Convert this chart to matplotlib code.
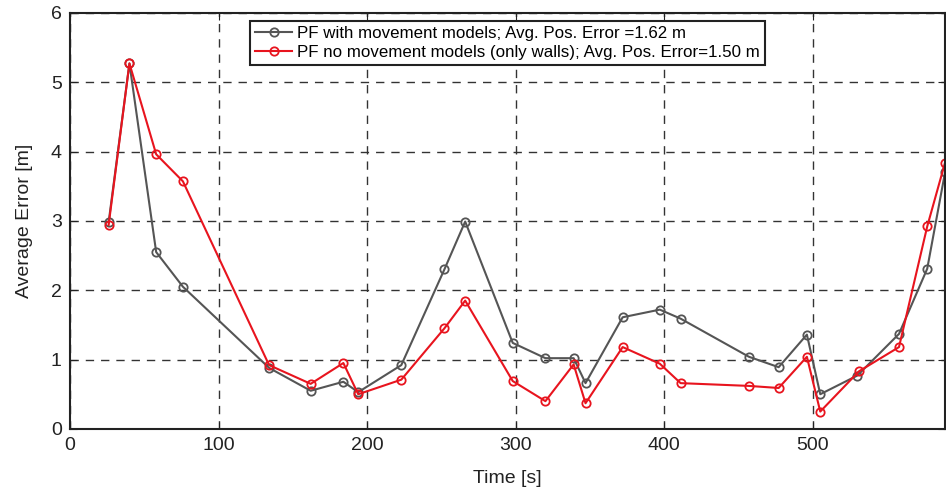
import numpy as np
import matplotlib.pyplot as plt

plt.rcParams['font.family'] = ['Liberation Sans', 'DejaVu Sans']

# PF with movement models
t_mov = [26, 40, 58, 76, 134, 162, 184, 194, 223, 252, 266, 298, 320, 339, 347,
         372, 397, 411, 457, 477, 496, 505, 530, 558, 577, 589]
e_mov = [2.98, 5.27, 2.55, 2.05, 0.88, 0.55, 0.68, 0.53, 0.92, 2.30, 2.99, 1.24,
         1.02, 1.02, 0.66, 1.61, 1.72, 1.59, 1.04, 0.89, 1.36, 0.50, 0.77, 1.37,
         2.31, 3.70]

# PF without movement models (only walls)
t_walls = [26, 40, 58, 76, 134, 162, 184, 194, 223, 252, 266, 298, 320, 339, 347,
           372, 397, 411, 457, 477, 496, 505, 531, 558, 577, 589]
e_walls = [2.94, 5.27, 3.96, 3.57, 0.92, 0.65, 0.95, 0.50, 0.71, 1.45, 1.85, 0.69,
           0.40, 0.93, 0.37, 1.18, 0.94, 0.66, 0.62, 0.59, 1.04, 0.25, 0.83, 1.18,
           2.92, 3.84]

fig = plt.figure(figsize=(9.46, 4.93), dpi=100)
ax = fig.add_axes([0.074, 0.130, 0.925, 0.844])

ax.plot(t_mov, e_mov, '-o', color='#555555', lw=1.5, ms=6, mfc='none', mew=1.3,
        label='PF with movement models; Avg. Pos. Error =1.62 m')
ax.plot(t_walls, e_walls, '-o', color='#e8141e', lw=1.5, ms=6, mfc='none', mew=1.3,
        label='PF no movement models (only walls); Avg. Pos. Error=1.50 m')

ax.set_xlim(0, 589)
ax.set_ylim(0, 6)
ax.set_xticks([0, 100, 200, 300, 400, 500])
ax.set_yticks(range(7))
ax.grid(True, ls=(0, (6, 5)), color='#333333', lw=1.0)
ax.tick_params(direction='in', length=5, labelsize=14, top=True, right=True,
               colors='#222222', pad=6)
for s in ax.spines.values():
    s.set_color('#222222')
    s.set_linewidth(1.5)

ax.set_xlabel('Time [s]', fontsize=14, color='#222222', labelpad=11)
ax.set_ylabel('Average Error [m]', fontsize=14, color='#222222', labelpad=13)

leg = ax.legend(loc='upper center', bbox_to_anchor=(0.5, 1.0), fontsize=12.2,
                fancybox=False, framealpha=1, edgecolor='#222222',
                borderpad=0.3, labelspacing=0.2, handlelength=2.2,
                handletextpad=0.3, borderaxespad=0.5)
leg.get_frame().set_linewidth(1.5)

fig.savefig('out.png', dpi=100)
